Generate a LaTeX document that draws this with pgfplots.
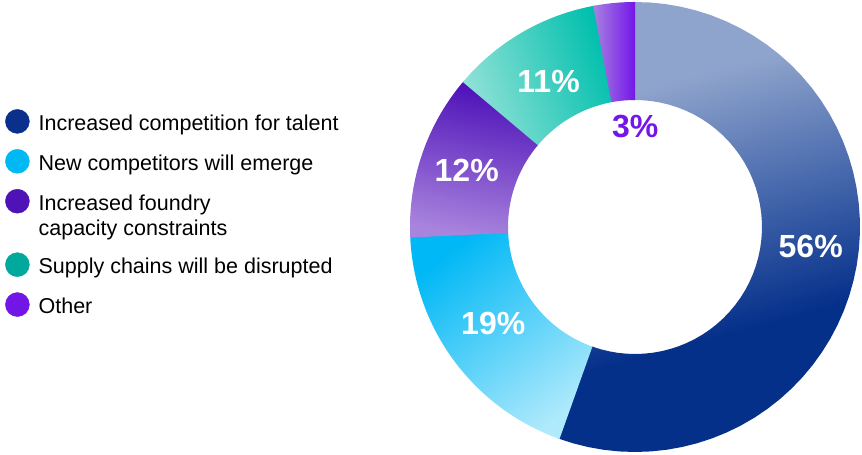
\documentclass[border=0pt]{standalone}
\usepackage{fontspec}
\setmainfont{Liberation Sans}
\usepackage{pgfplots}
\pgfplotsset{compat=1.18}

% wedge gradients
\definecolor{c56t}{HTML}{8FA4CC}
\definecolor{c56m}{HTML}{4A6BAE}
\definecolor{c56b}{HTML}{05308A}
\definecolor{c19a}{HTML}{00B8F5}
\definecolor{c19b}{HTML}{AEE9FC}
\definecolor{c12a}{HTML}{4C0FB8}
\definecolor{c12b}{HTML}{A984DD}
\definecolor{c11a}{HTML}{92E2D7}
\definecolor{c11b}{HTML}{00BFAD}
\definecolor{c3a}{HTML}{A681E0}
\definecolor{c3b}{HTML}{7416E9}
% legend dots
\definecolor{lnavy}{HTML}{0B308B}
\definecolor{lcyan}{HTML}{00B8F4}
\definecolor{lpurple}{HTML}{4E12B6}
\definecolor{lteal}{HTML}{00A99C}
\definecolor{lviolet}{HTML}{7216E7}

\pgfdeclareverticalshading{sh56}{100bp}{color(0bp)=(c56b); color(37bp)=(c56b);
  color(53bp)=(c56m); color(68bp)=(c56t); color(100bp)=(c56t)}

\newcommand\legfont{\fontsize{21.5}{25}\selectfont}
\newcommand\labfont{\fontsize{32}{36}\selectfont\bfseries}
\newcommand\lstrut{\rule[-5pt]{0pt}{25pt}}

% #1 start, #2 end (cumulative percent), #3 fill style
\newcommand\donutslice[3]{%
  \addplot[draw=none, forget plot, #3, variable=\t,
    samples at={0,2,...,100,100.001,102,104,...,200}]
    ({ringr(\t)*cos(pieang(#1+(#2-#1)*min(\t,200-\t)/100))},
     {ringr(\t)*sin(pieang(#1+(#2-#1)*min(\t,200-\t)/100))});
}

\begin{document}
\begin{tikzpicture}
\useasboundingbox (0,0) rectangle (862pt,455pt);
\begin{axis}[
  at={(410pt,3pt)}, anchor=south west,
  width=450pt, height=450pt, scale only axis,
  xmin=-1, xmax=1, ymin=-1, ymax=1,
  hide axis, clip=false,
  declare function={pieang(\p)=90-\p*360/101; ringr(\s)=ifthenelse(\s<=100,1,0.5644);},
  legend cell align=left,
  legend style={at={(-0.9,0.7622)}, anchor=north west, draw=none, fill=none,
    inner sep=0pt, row sep=15.5pt, column sep=9pt, font=\legfont,
    nodes={inner sep=0pt, align=left}},
]
\donutslice{-0.1}{56.1}{shade, shading=sh56, shading angle=15}
\donutslice{56}{75.1}{top color=c19a, bottom color=c19b, shading angle=38}
\donutslice{75}{87.1}{top color=c12a, bottom color=c12b, shading angle=-10}
\donutslice{87}{98.1}{top color=c11b, bottom color=c11a, shading angle=-70}
\donutslice{98}{101}{top color=c3b, bottom color=c3a, shading angle=-90}

\addlegendimage{legend image code/.code={\fill[lnavy] (12pt,0pt) circle (12pt);}}
\addlegendentry{\lstrut Increased competition for talent}
\addlegendimage{legend image code/.code={\fill[lcyan] (12pt,0pt) circle (12pt);}}
\addlegendentry{\lstrut New competitors will emerge}
\addlegendimage{legend image code/.code={\fill[lpurple] (12pt,12.5pt) circle (12pt);}}
\addlegendentry{\lstrut Increased foundry\\\lstrut capacity constraints}
\addlegendimage{legend image code/.code={\fill[lteal] (12pt,0pt) circle (12pt);}}
\addlegendentry{\lstrut Supply chains will be disrupted}
\addlegendimage{legend image code/.code={\fill[lviolet] (12pt,0pt) circle (12pt);}}
\addlegendentry{\lstrut Other}

\node[font=\labfont, text=white, inner sep=0pt] at (axis cs:0.781,-0.088) {56\%};
\node[font=\labfont, text=white, inner sep=0pt] at (axis cs:-0.630,-0.428) {19\%};
\node[font=\labfont, text=white, inner sep=0pt] at (axis cs:-0.748,0.251) {12\%};
\node[font=\labfont, text=white, inner sep=0pt] at (axis cs:-0.384,0.648) {11\%};
\node[font=\labfont, text=c3b, inner sep=0pt] at (axis cs:0.001,0.448) {3\%};
\end{axis}
\end{tikzpicture}
\end{document}
